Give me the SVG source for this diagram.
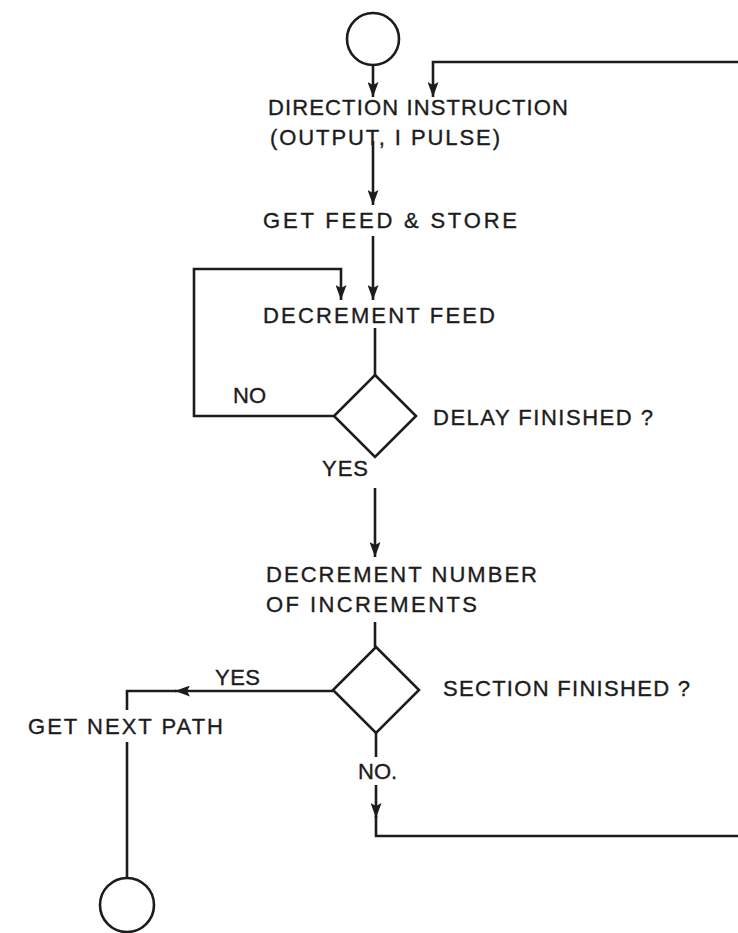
<svg xmlns="http://www.w3.org/2000/svg" width="738" height="933" viewBox="0 0 738 933">
  <style>
    .ln { fill: none; stroke: #1c1c1c; stroke-width: 2.6; stroke-linejoin: miter; stroke-linecap: butt; }
    .shape { fill: #ffffff; stroke: #1c1c1c; stroke-width: 2.6; }
    .t { font-family: "Liberation Sans", Arial, sans-serif; font-size: 22px; fill: #1c1c1c; stroke: #1c1c1c; stroke-width: 0.35; }
  </style>
  <defs>
    <marker id="arrow" markerUnits="userSpaceOnUse" markerWidth="15" markerHeight="11" viewBox="0 0 15 11" refX="15" refY="5.5" orient="auto">
      <path d="M0,0 L15,5.5 L0,11 L3,5.5 z" fill="#1c1c1c"/>
    </marker>
  </defs>
  <rect width="738" height="933" fill="#ffffff"/>

  <!-- flow lines and their branch labels -->
  <g id="connectors">
    <path class="ln" d="M373,65 L373,97" marker-end="url(#arrow)"/>
    <path class="ln" d="M738,62 L433,62 L433,97" marker-end="url(#arrow)"/>
    <path class="ln" d="M373,141 L373,205" marker-end="url(#arrow)"/>
    <path class="ln" d="M373,236 L373,300" marker-end="url(#arrow)"/>
    <path class="ln" d="M375,328 L375,375"/>
    <path class="ln" d="M334,416 L194,416 L194,269 L341,269 L341,300" marker-end="url(#arrow)"/>
    <path class="ln" d="M375,488 L375,557" marker-end="url(#arrow)"/>
    <path class="ln" d="M375,622 L375,647"/>
    <path class="ln" d="M333,691 L175,691" marker-end="url(#arrow)"/>
    <path class="ln" d="M176,691 L127,691 L127,710"/>
    <path class="ln" d="M127,742 L127,877"/>
    <path class="ln" d="M376,733 L376,757"/>
    <path class="ln" d="M376,785 L376,818" marker-end="url(#arrow)"/>
    <path class="ln" d="M376,816 L376,836 L738,836"/>
    <text class="t" x="233" y="403">NO</text>
    <text class="t" x="322" y="476" textLength="46" lengthAdjust="spacing">YES</text>
    <text class="t" x="215" y="685" textLength="45" lengthAdjust="spacing">YES</text>
    <text class="t" x="358" y="779">NO.</text>
  </g>

  <g id="start">
    <circle class="shape" cx="373" cy="39" r="26"/>
  </g>

  <g id="direction-instruction">
    <text class="t" x="268" y="115" textLength="300" lengthAdjust="spacing">DIRECTION INSTRUCTION</text>
    <text class="t" x="270" y="145" textLength="230" lengthAdjust="spacing">(OUTPUT, I PULSE)</text>
  </g>

  <g id="get-feed">
    <text class="t" x="263" y="228" textLength="254" lengthAdjust="spacing">GET FEED &amp; STORE</text>
  </g>

  <g id="decrement-feed">
    <text class="t" x="263" y="323" textLength="232" lengthAdjust="spacing">DECREMENT FEED</text>
  </g>

  <g id="delay-finished">
    <path class="shape" d="M375,375 L416,416 L375,457 L334,416 z"/>
    <text class="t" x="433" y="425" textLength="220" lengthAdjust="spacing">DELAY FINISHED ?</text>
  </g>

  <g id="decrement-number">
    <text class="t" x="266" y="582" textLength="271" lengthAdjust="spacing">DECREMENT NUMBER</text>
    <text class="t" x="266" y="612" textLength="211" lengthAdjust="spacing">OF INCREMENTS</text>
  </g>

  <g id="section-finished">
    <path class="shape" d="M376,647 L419,690 L376,733 L333,690 z"/>
    <text class="t" x="443" y="696" textLength="247" lengthAdjust="spacing">SECTION FINISHED ?</text>
  </g>

  <g id="get-next-path">
    <text class="t" x="28" y="734" textLength="195" lengthAdjust="spacing">GET NEXT PATH</text>
  </g>

  <g id="end">
    <circle class="shape" cx="127" cy="905" r="27"/>
  </g>
</svg>
